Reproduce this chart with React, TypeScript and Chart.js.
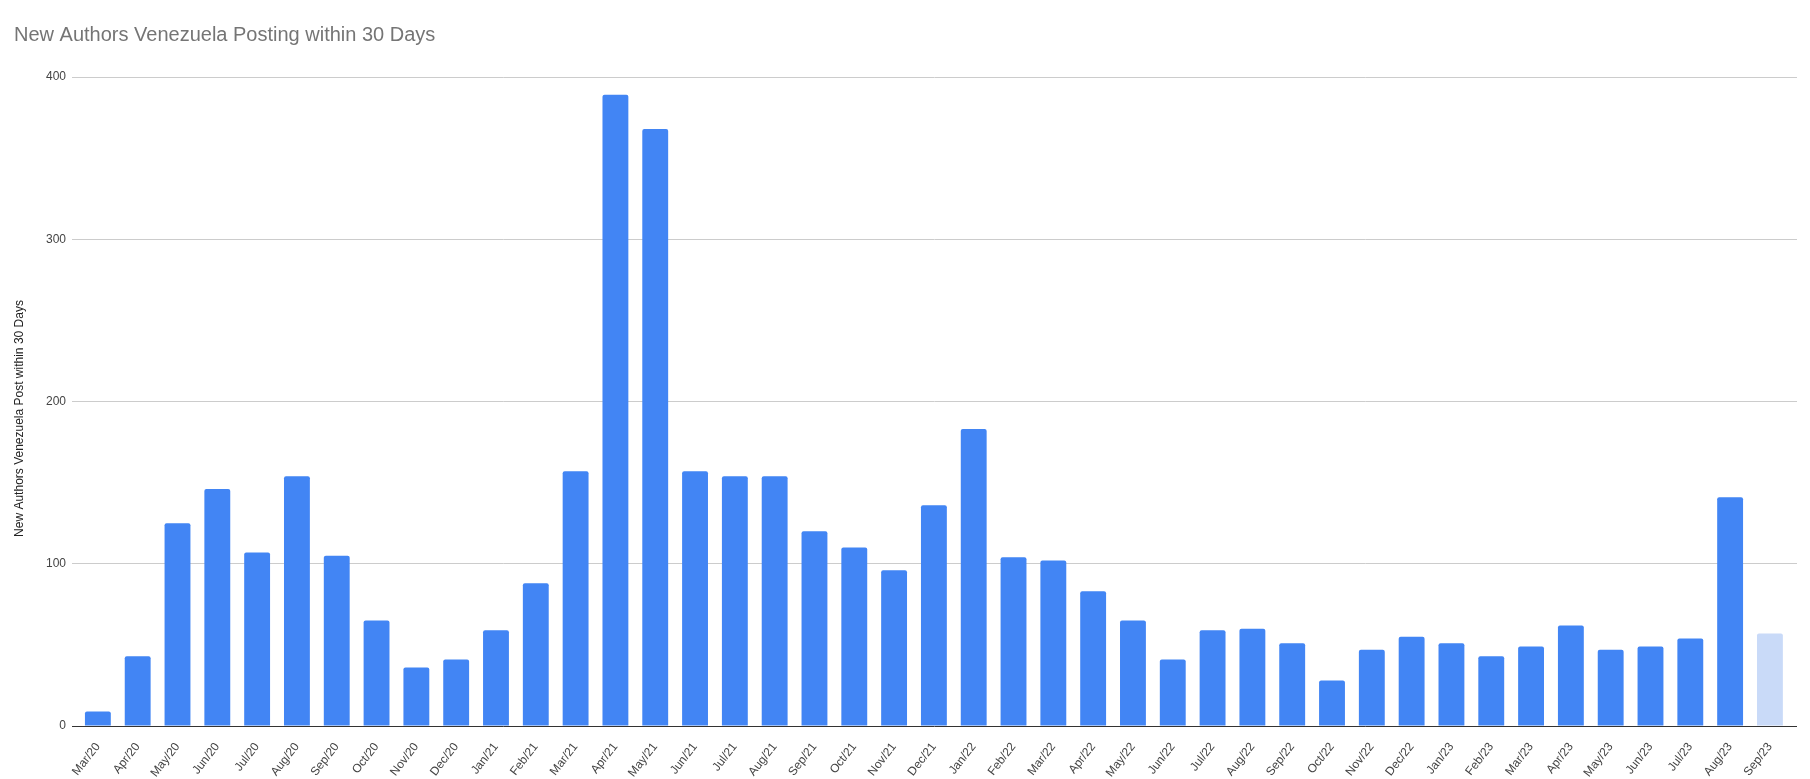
import { useEffect, useRef } from "react";
import { Chart, registerables } from "chart.js";

Chart.register(...registerables);

const chartTitle = "New Authors Venezuela Posting within 30 Days";
const yAxisTitle = "New Authors Venezuela Post within 30 Days";

const labels = [
  "Mar/20", "Apr/20", "May/20", "Jun/20", "Jul/20", "Aug/20", "Sep/20", "Oct/20", "Nov/20", "Dec/20",
  "Jan/21", "Feb/21", "Mar/21", "Apr/21", "May/21", "Jun/21", "Jul/21", "Aug/21", "Sep/21", "Oct/21", "Nov/21", "Dec/21",
  "Jan/22", "Feb/22", "Mar/22", "Apr/22", "May/22", "Jun/22", "Jul/22", "Aug/22", "Sep/22", "Oct/22", "Nov/22", "Dec/22",
  "Jan/23", "Feb/23", "Mar/23", "Apr/23", "May/23", "Jun/23", "Jul/23", "Aug/23", "Sep/23",
];

const values = [
  9, 43, 125, 146, 107, 154, 105, 65, 36, 41,
  59, 88, 157, 389, 368, 157, 154, 154, 120, 110, 96, 136,
  183, 104, 102, 83, 65, 41, 59, 60, 51, 28, 47, 55,
  51, 43, 49, 62, 47, 49, 54, 141, 57,
];

// last (incomplete) month is highlighted lighter
const highlighted = ["Sep/23"];

const yTicks = [0, 100, 200, 300, 400];

const MAIN_COLOR = "#4285F4";
const LIGHT_COLOR = "#C9DAF8";
const FONT = "'Liberation Sans', Arial, sans-serif";

// Draws the y-axis title slightly below the plot centre, as in the reference
const yTitlePlugin = {
  id: "yTitlePlugin",
  afterDraw(chart: any) {
    const { ctx, chartArea } = chart;
    ctx.save();
    ctx.translate(20, (chartArea.top + chartArea.bottom) / 2 + 17);
    ctx.rotate(-Math.PI / 2);
    ctx.textAlign = "center";
    ctx.textBaseline = "middle";
    ctx.fillStyle = "#222";
    ctx.font = `12px ${FONT}`;
    ctx.fillText(yAxisTitle, 0, 0);
    ctx.restore();
  },
};

export default function App() {
  const ref = useRef<HTMLCanvasElement | null>(null);

  useEffect(() => {
    document.body.style.margin = "0";
    const canvas = ref.current;
    if (!canvas) return;
    const colors = labels.map((l) => (highlighted.includes(l) ? LIGHT_COLOR : MAIN_COLOR));
    const chart = new Chart(canvas, {
      type: "bar",
      data: {
        datasets: [
          {
            data: values.map((v, i) => ({ x: i, y: v })),
            backgroundColor: colors,
            borderRadius: 2,
            borderSkipped: "bottom",
            barPercentage: 0.65,
            categoryPercentage: 1,
          },
        ],
      },
      plugins: [yTitlePlugin],
      options: {
        animation: false,
        responsive: false,
        maintainAspectRatio: false,
        layout: { padding: { left: 14, right: 13, top: 0, bottom: 0 } },
        plugins: {
          legend: { display: false },
          tooltip: { enabled: false },
          title: {
            display: true,
            text: chartTitle,
            align: "start",
            color: "#757575",
            font: { family: FONT, size: 20, weight: "normal" },
            padding: { top: 23, bottom: 30 },
          },
        },
        scales: {
          x: {
            type: "linear",
            offset: false,
            min: -0.65,
            max: 42.68,
            grid: { display: false },
            border: { display: false },
            afterBuildTicks: (s: any) => {
              s.ticks = labels.map((_, i) => ({ value: i }));
            },
            afterFit: (s: any) => {
              s.height = 53;
            },
            ticks: {
              autoSkip: false,
              minRotation: 52,
              maxRotation: 52,
              padding: 6,
              color: "#444",
              font: { family: FONT, size: 12 },
              callback: (v: any) => labels[v as number] ?? "",
            },
          },
          y: {
            min: 0,
            max: 400,
            afterBuildTicks: (s: any) => {
              s.ticks = yTicks.map((v) => ({ value: v }));
            },
            afterFit: (s: any) => {
              s.width = 58;
            },
            grid: {
              color: (ctx: any) => (ctx.tick && ctx.tick.value === 0 ? "#333333" : "#cccccc"),
              drawTicks: false,
              lineWidth: 1,
            },
            border: { display: false },
            ticks: {
              padding: 6,
              color: "#444",
              font: { family: FONT, size: 12 },
            },
            title: { display: false },
          },
        },
      },
    });
    return () => chart.destroy();
  }, []);

  return (
    <div style={{ width: 1810, height: 779, background: "#fff" }}>
      <canvas ref={ref} width={1810} height={779} style={{ display: "block" }} />
    </div>
  );
}
